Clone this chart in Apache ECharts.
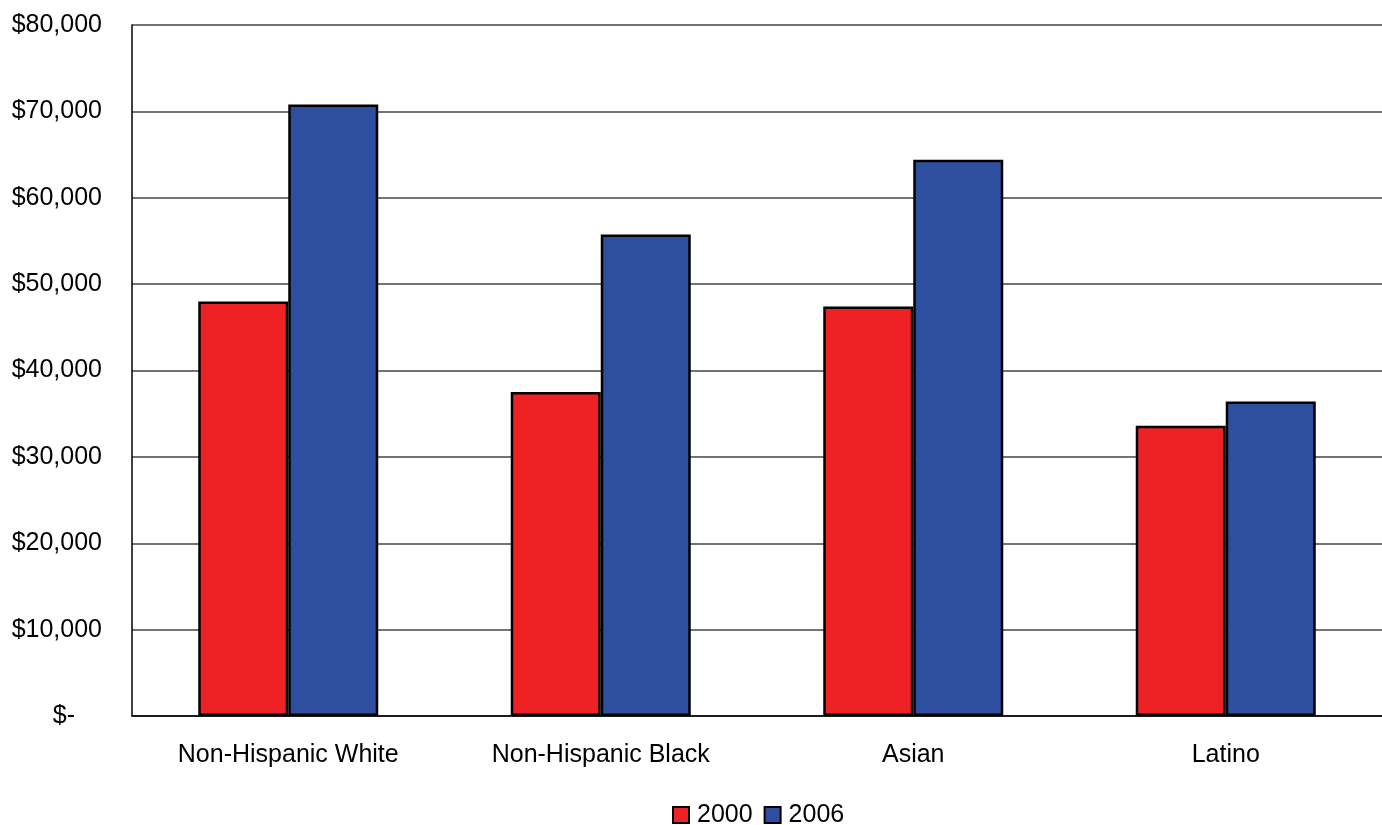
<!DOCTYPE html>
<html>
<head>
<meta charset="utf-8">
<script src="https://cdn.jsdelivr.net/npm/echarts@6/dist/echarts.min.js"></script>
<style>
html,body{margin:0;padding:0;background:#fff;}
#chart{width:1382px;height:825px;}
</style>
</head>
<body>
<div id="chart"></div>
<script>
const categories = ['Non-Hispanic White', 'Non-Hispanic Black', 'Asian', 'Latino'];
const seriesNames = ['2000', '2006'];
const values2000 = [48000, 37500, 47400, 33600];
const values2006 = [70800, 55750, 64400, 36400];
const yTicks = [0, 10000, 20000, 30000, 40000, 50000, 60000, 70000, 80000];

const chart = echarts.init(document.getElementById('chart'), null, {renderer: 'canvas'});
const font = 'Liberation Sans, Arial, sans-serif';
chart.setOption({
  animation: false,
  backgroundColor: '#fff',
  grid: {left: 132, right: 0, top: 25, bottom: 109, containLabel: false},
  legend: {
    data: seriesNames,
    top: 802,
    left: 672,
    padding: 0,
    itemWidth: 16,
    itemHeight: 16,
    itemGap: 11,
    icon: 'rect',
    textStyle: {fontFamily: font, fontSize: 25, lineHeight: 26, color: '#000', padding: [0, 0, 0, 3]}
  },
  xAxis: {
    type: 'category',
    data: categories,
    axisLine: {show: true, lineStyle: {color: '#000', width: 1.5}},
    axisTick: {show: false},
    axisLabel: {fontFamily: font, fontSize: 25, color: '#000', margin: 27}
  },
  yAxis: {
    type: 'value',
    min: yTicks[0],
    max: yTicks[yTicks.length - 1],
    interval: 10000,
    axisLine: {show: true, lineStyle: {color: '#000', width: 1.5}},
    axisTick: {show: false},
    splitLine: {show: true, lineStyle: {color: '#444', width: 1.5}},
    axisLabel: {
      fontFamily: font, fontSize: 25, color: '#000', margin: 30,
      formatter: function (v) {
        if (v === 0) return '{z|$-}';
        return '$' + v.toLocaleString('en-US');
      },
      rich: {z: {fontFamily: font, fontSize: 25, color: '#000', padding: [0, 27, 0, 0]}}
    }
  },
  series: [
    {
      name: seriesNames[0], type: 'bar', data: values2000,
      barWidth: '28.8%', barGap: '0%',
      itemStyle: {color: '#EE2224', borderColor: '#000', borderWidth: 2.5}
    },
    {
      name: seriesNames[1], type: 'bar', data: values2006,
      barWidth: '28.8%', barGap: '0%',
      itemStyle: {color: '#2E4FA0', borderColor: '#000', borderWidth: 2.5}
    }
  ]
});
</script>
</body>
</html>
